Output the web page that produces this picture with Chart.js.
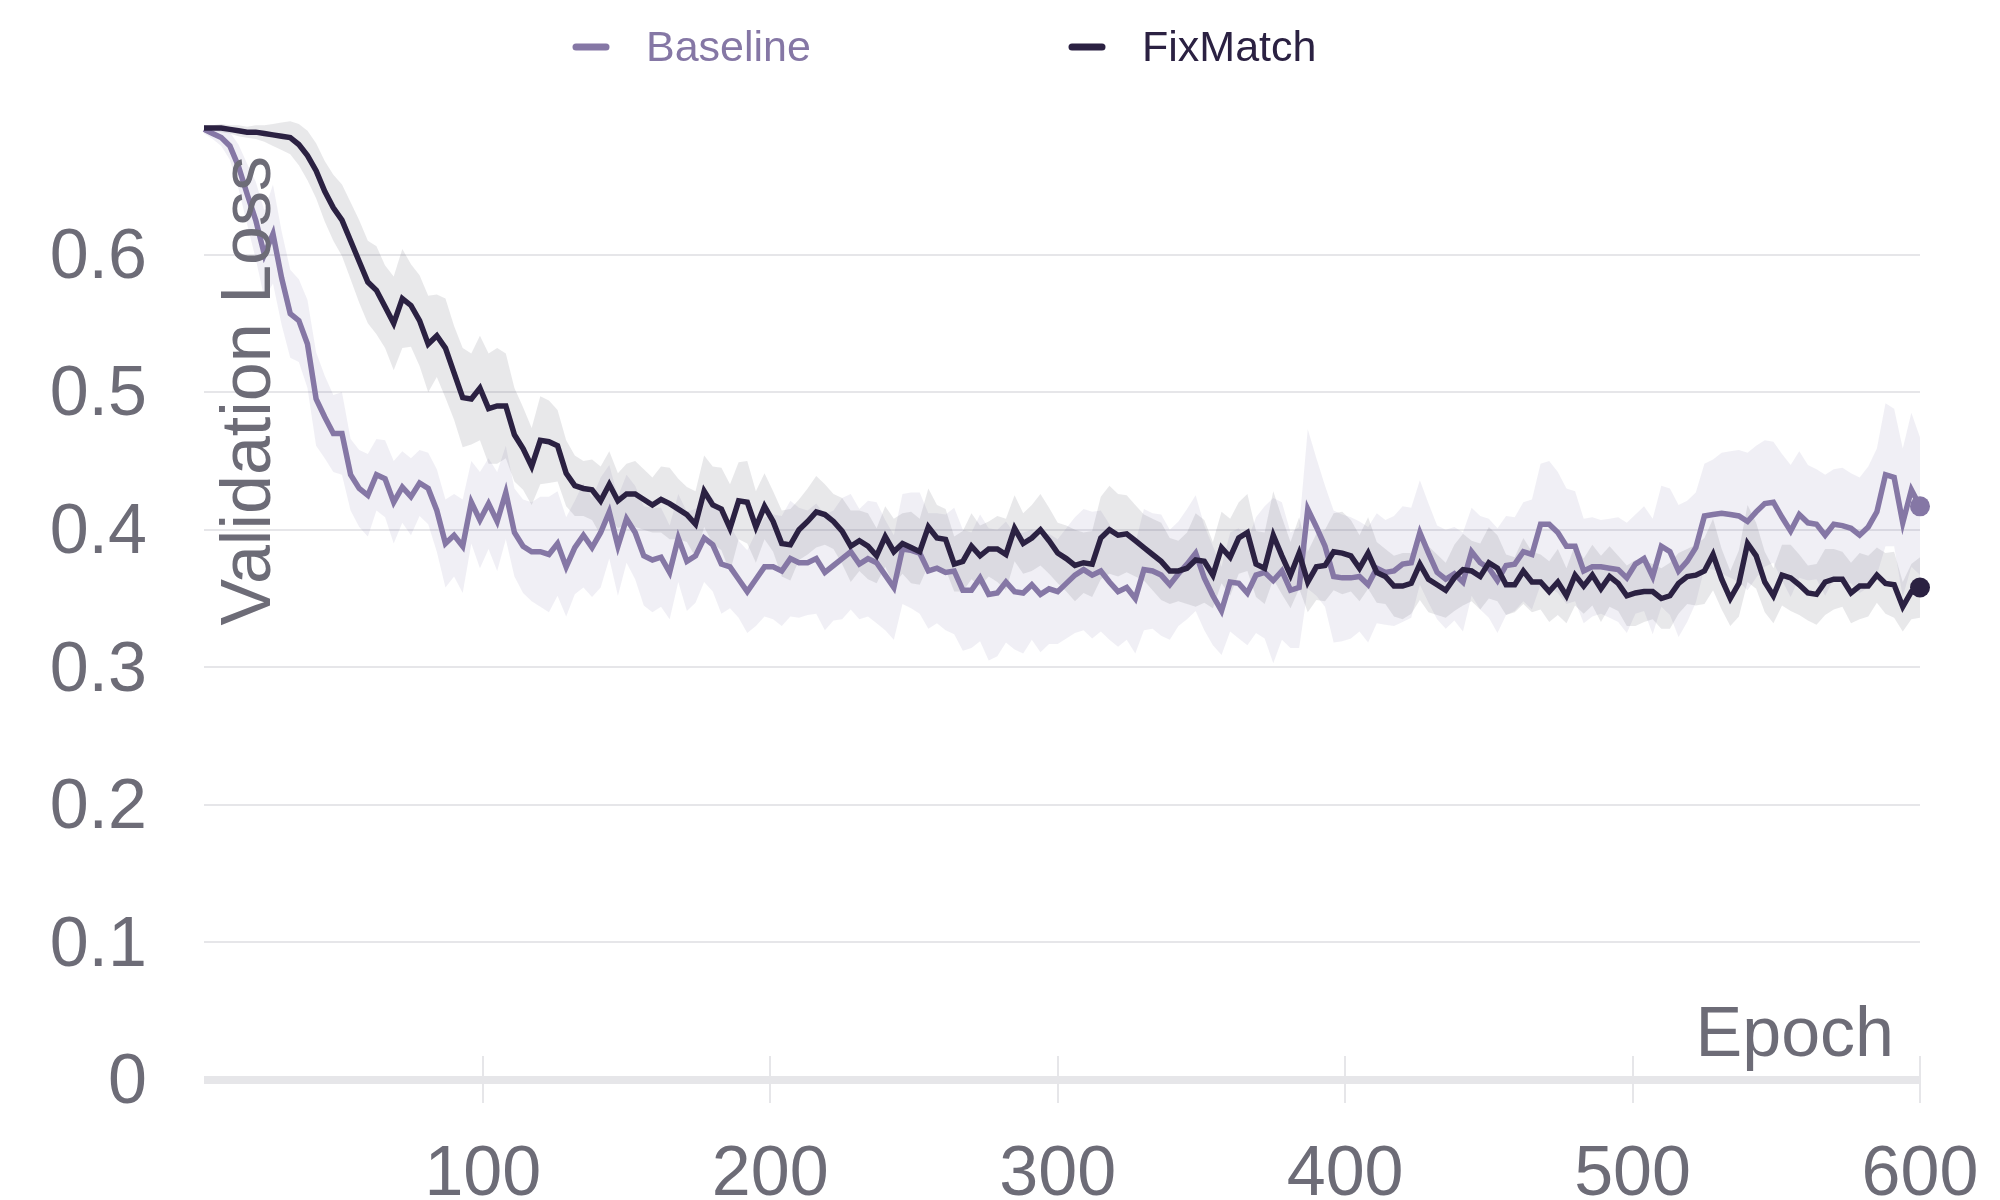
<!DOCTYPE html>
<html>
<head>
<meta charset="utf-8">
<script src="https://cdn.jsdelivr.net/npm/chart.js@4.4.1/dist/chart.umd.min.js"></script>
<style>
  html, body { margin: 0; padding: 0; background: #fff; }
  canvas { display: block; }
</style>
</head>
<body>
<canvas id="chart" width="2000" height="1200"></canvas>
<script>
const seriesNames = ['Baseline', 'FixMatch'];
const xTitle = 'Epoch';
const yTitle = 'Validation Loss';
const xTicks = [100, 200, 300, 400, 500, 600];
const yTicks = [0, 0.1, 0.2, 0.3, 0.4, 0.5, 0.6];

// mean validation loss, one value every 3 epochs (3 .. 600)
const baseline = [
  0.691, 0.688, 0.685, 0.679, 0.664, 0.644, 0.625, 0.600, 0.615, 0.583,
  0.557, 0.552, 0.535, 0.495, 0.482, 0.470, 0.470, 0.440, 0.430, 0.425,
  0.440, 0.437, 0.420, 0.431, 0.424, 0.434, 0.430, 0.414, 0.390, 0.396,
  0.388, 0.420, 0.407, 0.419, 0.406, 0.427, 0.398, 0.388, 0.384, 0.384,
  0.382, 0.390, 0.373, 0.387, 0.396, 0.387, 0.398, 0.413, 0.388, 0.408,
  0.398, 0.381, 0.378, 0.380, 0.369, 0.394, 0.377, 0.381, 0.394, 0.389,
  0.375, 0.373, 0.364, 0.355, 0.364, 0.373, 0.373, 0.370, 0.379, 0.376,
  0.376, 0.379, 0.369, 0.374, 0.379, 0.384, 0.375, 0.379, 0.376, 0.367,
  0.358, 0.386, 0.385, 0.383, 0.370, 0.372, 0.369, 0.370, 0.356, 0.356,
  0.365, 0.353, 0.354, 0.362, 0.355, 0.354, 0.360, 0.353, 0.357, 0.355,
  0.361, 0.367, 0.371, 0.367, 0.370, 0.362, 0.355, 0.358, 0.350, 0.371,
  0.370, 0.367, 0.360, 0.368, 0.375, 0.383, 0.365, 0.352, 0.341, 0.362,
  0.361, 0.354, 0.367, 0.369, 0.363, 0.370, 0.356, 0.358, 0.415, 0.402,
  0.388, 0.366, 0.365, 0.365, 0.366, 0.360, 0.372, 0.369, 0.370, 0.375,
  0.376, 0.398, 0.383, 0.369, 0.364, 0.368, 0.362, 0.384, 0.376, 0.372,
  0.363, 0.374, 0.375, 0.384, 0.382, 0.404, 0.404, 0.398, 0.388, 0.388,
  0.370, 0.373, 0.373, 0.372, 0.371, 0.365, 0.375, 0.379, 0.366, 0.388,
  0.384, 0.370, 0.377, 0.387, 0.410, 0.411, 0.412, 0.411, 0.410, 0.406,
  0.413, 0.419, 0.420, 0.409, 0.399, 0.411, 0.405, 0.404, 0.396, 0.404,
  0.403, 0.401, 0.396, 0.402, 0.413, 0.440, 0.438, 0.405, 0.429, 0.417
];
const fixmatch = [
  0.692, 0.692, 0.692, 0.691, 0.690, 0.689, 0.689, 0.688, 0.687, 0.686,
  0.685, 0.680, 0.672, 0.661, 0.646, 0.634, 0.625, 0.610, 0.595, 0.580,
  0.574, 0.562, 0.550, 0.568, 0.563, 0.552, 0.535, 0.541, 0.532, 0.514,
  0.496, 0.495, 0.503, 0.488, 0.490, 0.490, 0.469, 0.459, 0.446, 0.465,
  0.464, 0.461, 0.441, 0.432, 0.430, 0.429, 0.421, 0.433, 0.421, 0.426,
  0.426, 0.422, 0.418, 0.422, 0.419, 0.415, 0.411, 0.404, 0.428, 0.418,
  0.415, 0.401, 0.421, 0.420, 0.402, 0.417, 0.406, 0.390, 0.389, 0.400,
  0.406, 0.413, 0.411, 0.406, 0.399, 0.388, 0.392, 0.388, 0.381, 0.395,
  0.384, 0.390, 0.387, 0.384, 0.402, 0.394, 0.393, 0.375, 0.377, 0.388,
  0.381, 0.386, 0.386, 0.382, 0.401, 0.390, 0.394, 0.400, 0.392, 0.383,
  0.379, 0.374, 0.376, 0.375, 0.394, 0.400, 0.396, 0.397, 0.392, 0.387,
  0.382, 0.377, 0.370, 0.370, 0.372, 0.378, 0.377, 0.367, 0.387, 0.380,
  0.394, 0.398, 0.375, 0.372, 0.396, 0.381, 0.367, 0.383, 0.362, 0.373,
  0.374, 0.384, 0.383, 0.381, 0.372, 0.383, 0.369, 0.366, 0.359, 0.359,
  0.361, 0.375, 0.364, 0.360, 0.356, 0.365, 0.371, 0.370, 0.366, 0.376,
  0.372, 0.360, 0.360, 0.370, 0.362, 0.362, 0.355, 0.362, 0.352, 0.367,
  0.359, 0.367, 0.357, 0.366, 0.361, 0.352, 0.354, 0.355, 0.355, 0.350,
  0.352, 0.361, 0.366, 0.367, 0.370, 0.382, 0.364, 0.350, 0.361, 0.390,
  0.381, 0.362, 0.352, 0.367, 0.365, 0.360, 0.354, 0.353, 0.362, 0.364,
  0.364, 0.354, 0.359, 0.359, 0.367, 0.361, 0.360, 0.344, 0.355, 0.358
];

// half width of the shaded band around each mean
const baselineSpread = [
  0.003, 0.004, 0.006, 0.010, 0.016, 0.022, 0.028, 0.032, 0.036, 0.034,
  0.032, 0.030, 0.032, 0.034, 0.030, 0.028, 0.030, 0.026, 0.028, 0.030,
  0.026, 0.028, 0.030, 0.026, 0.028, 0.024, 0.026, 0.030, 0.032, 0.030,
  0.034, 0.030, 0.035, 0.033, 0.036, 0.034, 0.032, 0.034, 0.036, 0.040,
  0.042, 0.038, 0.036, 0.034, 0.038, 0.036, 0.040, 0.034, 0.036, 0.032,
  0.034, 0.036, 0.038, 0.036, 0.034, 0.032, 0.036, 0.034, 0.032, 0.034,
  0.036, 0.030, 0.028, 0.030, 0.034, 0.036, 0.038, 0.040, 0.042, 0.040,
  0.038, 0.040, 0.042, 0.040, 0.044, 0.042, 0.040, 0.042, 0.044, 0.040,
  0.038, 0.040, 0.042, 0.044, 0.042, 0.040, 0.042, 0.046, 0.044, 0.042,
  0.046, 0.048, 0.046, 0.044, 0.042, 0.044, 0.040, 0.042, 0.040, 0.038,
  0.040, 0.042, 0.044, 0.046, 0.044, 0.042, 0.040, 0.038, 0.040, 0.044,
  0.042, 0.044, 0.040, 0.038, 0.040, 0.042, 0.038, 0.036, 0.032, 0.036,
  0.040, 0.038, 0.042, 0.048, 0.060, 0.050, 0.042, 0.044, 0.058, 0.050,
  0.044, 0.048, 0.046, 0.044, 0.040, 0.042, 0.040, 0.038, 0.040, 0.042,
  0.040, 0.038, 0.036, 0.034, 0.036, 0.034, 0.036, 0.032, 0.034, 0.036,
  0.038, 0.036, 0.034, 0.036, 0.040, 0.044, 0.046, 0.044, 0.042, 0.040,
  0.038, 0.036, 0.034, 0.036, 0.038, 0.040, 0.036, 0.038, 0.042, 0.044,
  0.046, 0.048, 0.044, 0.040, 0.038, 0.040, 0.044, 0.046, 0.048, 0.050,
  0.048, 0.046, 0.044, 0.046, 0.048, 0.046, 0.042, 0.040, 0.044, 0.040,
  0.042, 0.040, 0.042, 0.044, 0.046, 0.052, 0.050, 0.054, 0.056, 0.050
];
const fixmatchSpread = [
  0.002, 0.002, 0.003, 0.003, 0.004, 0.004, 0.005, 0.006, 0.008, 0.010,
  0.012, 0.015, 0.018, 0.020, 0.022, 0.024, 0.026, 0.028, 0.030, 0.030,
  0.032, 0.030, 0.034, 0.036, 0.030, 0.033, 0.035, 0.030, 0.036, 0.034,
  0.036, 0.033, 0.038, 0.040, 0.042, 0.038, 0.034, 0.030, 0.028, 0.032,
  0.030, 0.026, 0.024, 0.022, 0.020, 0.022, 0.025, 0.024, 0.020, 0.022,
  0.024, 0.022, 0.020, 0.024, 0.026, 0.022, 0.020, 0.024, 0.026, 0.028,
  0.030, 0.032, 0.028, 0.030, 0.026, 0.024, 0.022, 0.024, 0.026, 0.022,
  0.024, 0.026, 0.022, 0.020, 0.024, 0.026, 0.022, 0.024, 0.020, 0.022,
  0.024, 0.022, 0.026, 0.024, 0.028, 0.024, 0.022, 0.020, 0.022, 0.024,
  0.022, 0.020, 0.024, 0.026, 0.024, 0.022, 0.024, 0.026, 0.024, 0.022,
  0.024, 0.026, 0.022, 0.024, 0.030, 0.032, 0.030, 0.028, 0.026, 0.024,
  0.026, 0.028, 0.024, 0.022, 0.026, 0.034, 0.030, 0.024, 0.026, 0.028,
  0.026, 0.028, 0.024, 0.026, 0.032, 0.028, 0.024, 0.026, 0.022, 0.024,
  0.026, 0.028, 0.030, 0.026, 0.024, 0.026, 0.022, 0.020, 0.022, 0.024,
  0.022, 0.026, 0.024, 0.022, 0.020, 0.024, 0.026, 0.022, 0.024, 0.026,
  0.024, 0.022, 0.020, 0.024, 0.022, 0.020, 0.022, 0.024, 0.020, 0.022,
  0.020, 0.022, 0.024, 0.022, 0.020, 0.022, 0.024, 0.022, 0.020, 0.022,
  0.024, 0.022, 0.020, 0.022, 0.024, 0.026, 0.022, 0.020, 0.024, 0.028,
  0.024, 0.022, 0.020, 0.022, 0.024, 0.022, 0.020, 0.022, 0.024, 0.022,
  0.020, 0.022, 0.024, 0.022, 0.020, 0.022, 0.024, 0.018, 0.020, 0.022
];

const epochs = fixmatch.map((_, i) => 3 + 3 * i);

const baselineColor = '#8577a5';
const fixmatchColor = '#2b2142';
const baselineBand = 'rgba(120, 110, 160, 0.11)';
const fixmatchBand = 'rgba(90, 90, 105, 0.14)';
const textColor = '#6d6c77';
const gridColor = '#e6e6e9';
const fontFamily = '"Liberation Sans", Arial, sans-serif';

const pts = (vals, spread, sign) =>
  vals.map((v, i) => ({ x: epochs[i], y: v + sign * (spread ? spread[i] : 0) }));

const bandSet = (vals, spread, color, order) => [
  { data: pts(vals, spread, 1), fill: '+1', backgroundColor: color, borderWidth: 0, pointRadius: 0, order },
  { data: pts(vals, spread, -1), fill: false, borderWidth: 0, pointRadius: 0, order }
];

const lineSet = (vals, color, order) => ({
  data: pts(vals, null, 0),
  borderColor: color,
  backgroundColor: color,
  borderWidth: 5.5,
  fill: false,
  tension: 0,
  clip: false,
  order,
  pointRadius: (c) => (c.dataIndex === vals.length - 1 ? 10 : 0),
  pointBorderWidth: 0,
  pointBackgroundColor: color
});

const decorations = {
  id: 'decorations',
  beforeDatasetsDraw(chart) {
    const { ctx, chartArea, scales } = chart;
    ctx.save();
    // x axis line at y = 0 with tick marks crossing it
    ctx.strokeStyle = gridColor;
    ctx.lineWidth = 8;
    ctx.beginPath();
    ctx.moveTo(chartArea.left, chartArea.bottom);
    ctx.lineTo(chartArea.right, chartArea.bottom);
    ctx.stroke();
    ctx.lineWidth = 2;
    xTicks.forEach((v) => {
      const px = Math.round(scales.x.getPixelForValue(v));
      ctx.beginPath();
      ctx.moveTo(px, chartArea.bottom - 24);
      ctx.lineTo(px, chartArea.bottom + 23);
      ctx.stroke();
    });
    ctx.restore();
  },
  afterDraw(chart) {
    const { ctx, chartArea } = chart;
    ctx.save();
    // axis titles inside the plot
    ctx.fillStyle = textColor;
    ctx.font = '70px ' + fontFamily;
    ctx.textAlign = 'right';
    ctx.textBaseline = 'alphabetic';
    ctx.fillText(xTitle, chartArea.right - 26, chartArea.bottom - 24);
    ctx.save();
    ctx.translate(chartArea.left + 66, chartArea.top + 39);
    ctx.rotate(-Math.PI / 2);
    ctx.fillText(yTitle, 0, 0);
    ctx.restore();
    // legend
    const items = [
      { text: seriesNames[0], color: baselineColor, x: 573 },
      { text: seriesNames[1], color: fixmatchColor, x: 1069 }
    ];
    ctx.font = '43px ' + fontFamily;
    ctx.textAlign = 'left';
    ctx.lineCap = 'round';
    ctx.lineWidth = 7;
    items.forEach((it) => {
      ctx.strokeStyle = it.color;
      ctx.beginPath();
      ctx.moveTo(it.x + 3, 47);
      ctx.lineTo(it.x + 33, 47);
      ctx.stroke();
      ctx.fillStyle = it.color;
      ctx.fillText(it.text, it.x + 73, 61);
    });
    ctx.restore();
  }
};

new Chart(document.getElementById('chart'), {
  type: 'line',
  data: {
    datasets: [
      ...bandSet(baseline, baselineSpread, baselineBand, 3),
      ...bandSet(fixmatch, fixmatchSpread, fixmatchBand, 2),
      lineSet(baseline, baselineColor, 1),
      lineSet(fixmatch, fixmatchColor, 0)
    ]
  },
  options: {
    responsive: false,
    devicePixelRatio: 1,
    animation: false,
    events: [],
    layout: { padding: { top: 117, right: 80, left: 0, bottom: 0 } },
    plugins: { legend: { display: false }, tooltip: { enabled: false } },
    scales: {
      x: {
        type: 'linear',
        min: 3,
        max: 600,
        afterBuildTicks: (s) => { s.ticks = xTicks.map((v) => ({ value: v })); },
        afterFit: (s) => { s.height = 120; s.paddingLeft = 0; s.paddingRight = 0; },
        grid: { display: false },
        border: { display: false },
        ticks: {
          autoSkip: false,
          padding: 46,
          color: textColor,
          font: { size: 70, family: fontFamily },
          maxRotation: 0,
          callback: (v) => String(v)
        }
      },
      y: {
        type: 'linear',
        min: 0,
        max: 0.7,
        afterBuildTicks: (s) => { s.ticks = yTicks.map((v) => ({ value: v })); },
        afterFit: (s) => { s.width = 204; s.paddingTop = 0; s.paddingBottom = 0; },
        grid: {
          drawTicks: false,
          lineWidth: 2,
          color: (c) => (c.tick && c.tick.value > 0.001 ? gridColor : 'rgba(0,0,0,0)')
        },
        border: { display: false },
        ticks: {
          autoSkip: false,
          padding: 57,
          labelOffset: 4,
          color: textColor,
          font: { size: 70, family: fontFamily },
          callback: (v) => String(Math.round(v * 10) / 10)
        }
      }
    }
  },
  plugins: [decorations]
});
</script>
</body>
</html>
